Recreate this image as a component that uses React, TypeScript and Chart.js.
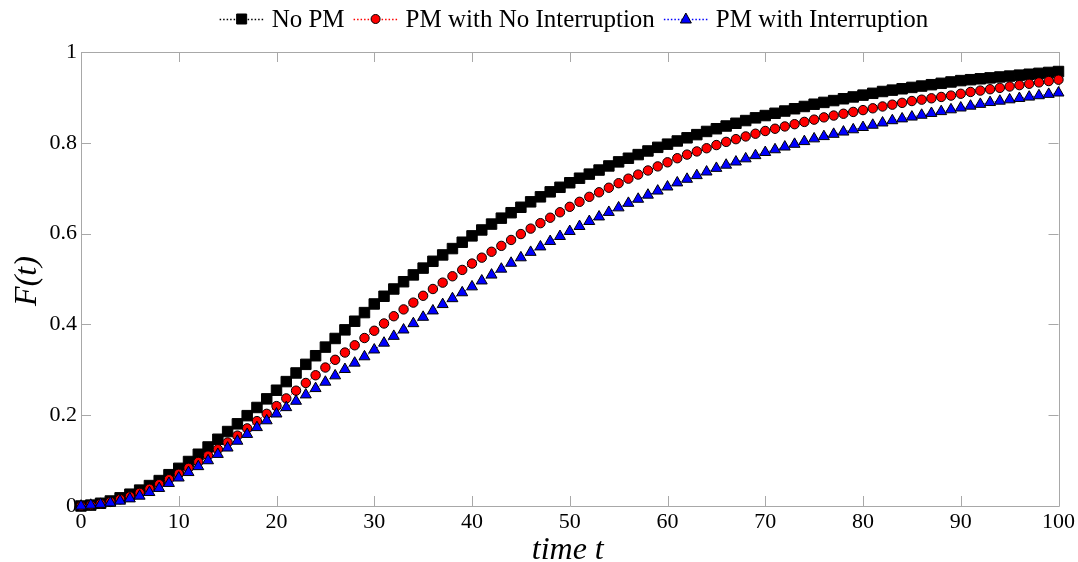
import React, { useEffect, useRef } from 'react';
import { Chart, registerables } from 'chart.js';

Chart.register(...registerables);

// time axis (categories)
const timeT = [
  0, 1, 2, 3, 4, 5, 6, 7, 8, 9, 10, 11, 12, 13, 14, 15, 16, 17, 18, 19, 20,
  21, 22, 23, 24, 25, 26, 27, 28, 29, 30, 31, 32, 33, 34, 35, 36, 37, 38, 39, 40,
  41, 42, 43, 44, 45, 46, 47, 48, 49, 50, 51, 52, 53, 54, 55, 56, 57, 58, 59, 60,
  61, 62, 63, 64, 65, 66, 67, 68, 69, 70, 71, 72, 73, 74, 75, 76, 77, 78, 79, 80,
  81, 82, 83, 84, 85, 86, 87, 88, 89, 90, 91, 92, 93, 94, 95, 96, 97, 98, 99, 100,
];

const noPM = [
  0, 0.002, 0.006, 0.011, 0.018, 0.026, 0.035, 0.045, 0.056, 0.069, 0.083,
  0.098, 0.114, 0.13, 0.147, 0.164, 0.181, 0.199, 0.217, 0.236, 0.255,
  0.274, 0.293, 0.312, 0.331, 0.35, 0.369, 0.388, 0.407, 0.426, 0.445,
  0.462, 0.478, 0.494, 0.509, 0.524, 0.539, 0.553, 0.567, 0.581, 0.595,
  0.608, 0.621, 0.634, 0.646, 0.658, 0.67, 0.681, 0.692, 0.702, 0.712,
  0.722, 0.731, 0.74, 0.749, 0.758, 0.766, 0.774, 0.782, 0.79, 0.797,
  0.804, 0.811, 0.818, 0.825, 0.831, 0.837, 0.843, 0.849, 0.855, 0.86,
  0.865, 0.87, 0.875, 0.88, 0.885, 0.889, 0.893, 0.897, 0.901, 0.905,
  0.909, 0.913, 0.916, 0.919, 0.922, 0.925, 0.928, 0.931, 0.934, 0.937,
  0.939, 0.941, 0.943, 0.945, 0.947, 0.949, 0.951, 0.953, 0.955, 0.957,
];

const pmNoInterruption = [
  0, 0.002, 0.005, 0.009, 0.015, 0.021, 0.029, 0.038, 0.048, 0.059, 0.071,
  0.084, 0.097, 0.111, 0.125, 0.14, 0.155, 0.171, 0.187, 0.203, 0.22,
  0.237, 0.254, 0.271, 0.288, 0.305, 0.322, 0.338, 0.354, 0.37, 0.386,
  0.402, 0.418, 0.433, 0.448, 0.463, 0.478, 0.492, 0.506, 0.52, 0.534,
  0.547, 0.56, 0.573, 0.586, 0.599, 0.611, 0.623, 0.635, 0.647, 0.659,
  0.67, 0.681, 0.691, 0.701, 0.711, 0.721, 0.73, 0.739, 0.748, 0.757,
  0.766, 0.774, 0.781, 0.788, 0.795, 0.802, 0.808, 0.814, 0.82, 0.826,
  0.831, 0.836, 0.841, 0.846, 0.851, 0.856, 0.86, 0.864, 0.868, 0.872,
  0.876, 0.88, 0.884, 0.888, 0.892, 0.895, 0.898, 0.901, 0.904, 0.908,
  0.912, 0.915, 0.918, 0.921, 0.924, 0.927, 0.93, 0.933, 0.936, 0.939,
];

const pmWithInterruption = [
  0, 0.002, 0.004, 0.007, 0.011, 0.016, 0.022, 0.03, 0.039, 0.05, 0.062,
  0.074, 0.087, 0.1, 0.114, 0.128, 0.143, 0.158, 0.173, 0.188, 0.203,
  0.217, 0.231, 0.245, 0.259, 0.273, 0.287, 0.301, 0.315, 0.329, 0.344,
  0.359, 0.374, 0.388, 0.402, 0.416, 0.43, 0.444, 0.457, 0.47, 0.483,
  0.496, 0.509, 0.522, 0.535, 0.547, 0.559, 0.571, 0.583, 0.594, 0.605,
  0.616, 0.627, 0.637, 0.647, 0.657, 0.667, 0.676, 0.685, 0.694, 0.703,
  0.712, 0.72, 0.728, 0.736, 0.744, 0.751, 0.758, 0.765, 0.772, 0.779,
  0.785, 0.791, 0.797, 0.803, 0.809, 0.814, 0.819, 0.824, 0.829, 0.834,
  0.839, 0.844, 0.849, 0.853, 0.857, 0.861, 0.865, 0.869, 0.873, 0.877,
  0.881, 0.885, 0.889, 0.892, 0.895, 0.898, 0.901, 0.904, 0.907, 0.91,
];

const seriesNames = ['No PM', 'PM with No Interruption', 'PM with Interruption'];
const xTickStep = 10;
const yTickStep = 0.2;

const SERIF = '"Liberation Serif", "Times New Roman", serif';

type Mk = { style: string; fill: string; line: string };
const markers: Mk[] = [
  { style: 'rect', fill: '#000000', line: '#000000' },
  { style: 'circle', fill: '#ff0000', line: '#ff0000' },
  { style: 'triangle', fill: '#0000ff', line: '#0000ff' },
];

function drawMarker(ctx: CanvasRenderingContext2D, style: string, x: number, y: number, fill: string) {
  ctx.save();
  ctx.fillStyle = fill;
  ctx.strokeStyle = '#000';
  ctx.lineWidth = 1;
  ctx.setLineDash([]);
  ctx.beginPath();
  if (style === 'rect') {
    ctx.rect(x - 5, y - 5, 10, 10);
  } else if (style === 'circle') {
    ctx.arc(x, y, 4.5, 0, Math.PI * 2);
  } else {
    ctx.moveTo(x, y - 6);
    ctx.lineTo(x + 5.5, y + 4);
    ctx.lineTo(x - 5.5, y + 4);
    ctx.closePath();
  }
  ctx.fill();
  ctx.stroke();
  ctx.restore();
}

const framePlugin = {
  id: 'frame',
  beforeDatasetsDraw(chart: any) {
    const { ctx, chartArea } = chart;
    const { left, right, top, bottom } = chartArea;
    const xs = chart.scales.x;
    const ys = chart.scales.y;
    ctx.save();
    ctx.strokeStyle = '#a8a8a8';
    ctx.lineWidth = 1;
    ctx.beginPath();
    ctx.rect(Math.round(left) + 0.5, Math.round(top) + 0.5, Math.round(right - left), Math.round(bottom - top));
    ctx.stroke();
    const tl = 10;
    ctx.beginPath();
    xs.ticks.forEach((t: any) => {
      const px = Math.round(xs.getPixelForValue(t.value)) + 0.5;
      ctx.moveTo(px, bottom);
      ctx.lineTo(px, bottom - tl);
      ctx.moveTo(px, top);
      ctx.lineTo(px, top + tl);
    });
    ys.ticks.forEach((t: any) => {
      const py = Math.round(ys.getPixelForValue(t.value)) + 0.5;
      ctx.moveTo(left, py);
      ctx.lineTo(left + tl, py);
      ctx.moveTo(right, py);
      ctx.lineTo(right - tl, py);
    });
    ctx.stroke();
    ctx.restore();
  },
  afterDraw(chart: any) {
    const { ctx, chartArea } = chart;
    ctx.save();
    // axis titles
    ctx.fillStyle = '#000';
    ctx.font = `italic 32px ${SERIF}`;
    ctx.textAlign = 'center';
    ctx.textBaseline = 'alphabetic';
    ctx.fillText('time t', (chartArea.left + chartArea.right) / 2 - 2, 559);
    ctx.save();
    ctx.translate(28, 281);
    ctx.rotate(-Math.PI / 2);
    ctx.textBaseline = 'middle';
    ctx.fillText('F(t)', 0, 0);
    ctx.restore();

    // legend
    ctx.font = `25px ${SERIF}`;
    const segW = 44;
    const gapSeg = 8;
    const gapItem = 9;
    const widths = seriesNames.map((n) => ctx.measureText(n).width);
    const total = widths.reduce((a, w) => a + segW + gapSeg + w, 0) + gapItem * (seriesNames.length - 1);
    let x = 574 - total / 2;
    const ly = 19;
    seriesNames.forEach((name, i) => {
      const mk = markers[i];
      ctx.save();
      ctx.strokeStyle = mk.line;
      ctx.lineWidth = 1.5;
      ctx.setLineDash([1.5, 2]);
      ctx.beginPath();
      ctx.moveTo(x, ly + 0.5);
      ctx.lineTo(x + segW, ly + 0.5);
      ctx.stroke();
      ctx.restore();
      drawMarker(ctx, mk.style, x + segW / 2, ly, mk.fill);
      x += segW + gapSeg;
      ctx.fillStyle = '#000';
      ctx.textAlign = 'left';
      ctx.textBaseline = 'middle';
      ctx.fillText(name, x, ly + 1);
      x += widths[i] + gapItem;
    });
    ctx.restore();
  },
};

export default function App() {
  const canvasRef = useRef<HTMLCanvasElement | null>(null);

  useEffect(() => {
    document.body.style.margin = '0';
    const canvas = canvasRef.current;
    if (!canvas) return;
    const series = [noPM, pmNoInterruption, pmWithInterruption];
    const datasets = series.map((vals, i) => {
      const mk = markers[i];
      return {
        label: seriesNames[i],
        data: timeT.map((t, j) => ({ x: t, y: vals[j] })),
        borderColor: mk.line,
        borderWidth: 1,
        borderDash: [1.5, 2],
        backgroundColor: mk.fill,
        pointStyle: mk.style,
        pointRadius: i === 0 ? 7.4 : i === 1 ? 4.7 : 6.3,
        pointBackgroundColor: mk.fill,
        pointBorderColor: '#000',
        pointBorderWidth: 1,
        tension: 0,
        clip: false as any,
        order: 3 - i,
      };
    });

    const chart = new Chart(canvas, {
      type: 'line',
      data: { datasets } as any,
      options: {
        animation: false,
        responsive: false,
        maintainAspectRatio: false,
        layout: { padding: { top: 52, right: 17, left: 0, bottom: 0 } },
        plugins: {
          legend: { display: false },
          tooltip: { enabled: false },
        },
        scales: {
          x: {
            type: 'linear',
            min: 0,
            max: 100,
            grid: { display: false, drawTicks: false },
            border: { display: false },
            ticks: {
              stepSize: xTickStep,
              color: '#000',
              padding: 3,
              maxRotation: 0,
              font: { family: SERIF, size: 22 },
            },
            afterFit: (s: any) => {
              s.height = 56;
            },
          },
          y: {
            min: 0,
            max: 1,
            grid: { display: false, drawTicks: false },
            border: { display: false },
            ticks: {
              stepSize: yTickStep,
              color: '#000',
              padding: 4,
              font: { family: SERIF, size: 22 },
              callback: (v: any) => String(Number(Number(v).toFixed(1))),
            },
            afterFit: (s: any) => {
              s.width = 81;
            },
          },
        },
      } as any,
      plugins: [framePlugin],
    });
    return () => chart.destroy();
  }, []);

  return (
    <div style={{ position: 'absolute', left: 0, top: 0, width: 1078, height: 562, background: '#fff' }}>
      <canvas ref={canvasRef} width={1078} height={562} style={{ display: 'block' }} />
    </div>
  );
}
